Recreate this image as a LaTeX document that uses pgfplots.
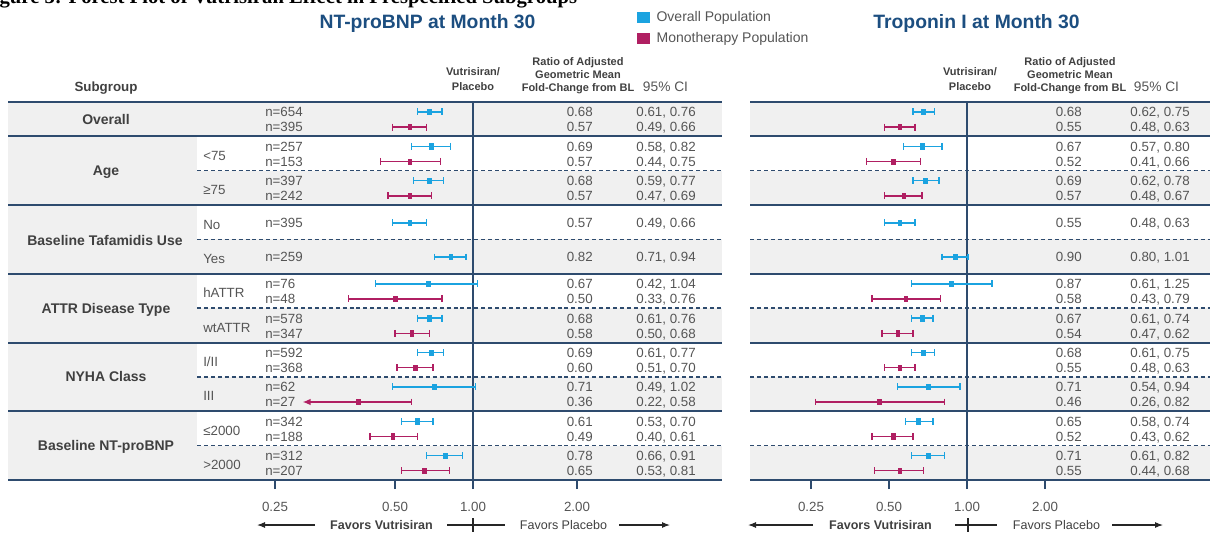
\documentclass[border=0pt]{standalone}
\usepackage{pgfplots}
\pgfplotsset{compat=1.18}
\usepackage{pgfplotstable}
\usepackage{fontspec}
\setmainfont{Liberation Sans}
\newfontfamily\ttlserif{Liberation Serif}
\usetikzlibrary{arrows.meta}
\definecolor{navy}{HTML}{2E4B6E}
\definecolor{ttl}{HTML}{1C4E80}
\definecolor{band}{HTML}{F0F0F0}
\definecolor{cblue}{HTML}{1BA3E0}
\definecolor{cmag}{HTML}{B01F62}
\definecolor{txt}{HTML}{555555}
\definecolor{lbl}{HTML}{404040}

% NT-proBNP, overall population
\pgfplotstableread{
y v lo hi
10.71 0.68 0.61 0.76
9.71 0.69 0.58 0.82
8.71 0.68 0.59 0.77
7.48 0.57 0.49 0.66
6.49 0.82 0.71 0.94
5.71 0.67 0.42 1.04
4.71 0.68 0.61 0.76
3.71 0.69 0.61 0.77
2.71 0.71 0.49 1.02
1.71 0.61 0.53 0.70
0.71 0.78 0.66 0.91
}\ntO
% NT-proBNP, monotherapy population
\pgfplotstableread{
y v lo hi
10.27 0.57 0.49 0.66
9.27 0.57 0.44 0.75
8.27 0.57 0.47 0.69
5.27 0.50 0.33 0.76
4.27 0.58 0.50 0.68
3.27 0.60 0.51 0.70
1.27 0.49 0.40 0.61
0.27 0.65 0.53 0.81
}\ntM
% NT-proBNP, monotherapy NYHA III (lower bound off scale)
\pgfplotstableread{
y v lo hi
2.27 0.36 0.22 0.58
}\ntMx
% Troponin I, overall population
\pgfplotstableread{
y v lo hi
10.71 0.68 0.62 0.75
9.71 0.67 0.57 0.80
8.71 0.69 0.62 0.78
7.48 0.55 0.48 0.63
6.49 0.90 0.80 1.01
5.71 0.87 0.61 1.25
4.71 0.67 0.61 0.74
3.71 0.68 0.61 0.75
2.71 0.71 0.54 0.94
1.71 0.65 0.58 0.74
0.71 0.71 0.61 0.82
}\trO
% Troponin I, monotherapy population
\pgfplotstableread{
y v lo hi
10.27 0.55 0.48 0.63
9.27 0.52 0.41 0.66
8.27 0.57 0.48 0.67
5.27 0.58 0.43 0.79
4.27 0.54 0.47 0.62
3.27 0.55 0.48 0.63
2.27 0.46 0.26 0.82
1.27 0.52 0.43 0.62
0.27 0.55 0.44 0.68
}\trM

\newcommand\ciplot[2]{%
  \addplot[#1, only marks, mark=|, mark size=2.6pt, mark options={line width=1.1pt}, forget plot] table[x=lo,y=y] {#2};
  \addplot[#1, only marks, mark=|, mark size=2.6pt, mark options={line width=1.1pt}, forget plot] table[x=hi,y=y] {#2};
  \addplot[#1, only marks, mark=square*, mark size=2pt, mark options={xscale=0.7}, forget plot,
    error bars/.cd, x dir=both, x explicit, error mark=none,
    error bar style={line width=1.1pt}]
    table[x=v, y=y, x error plus expr=\thisrow{hi}-\thisrow{v}, x error minus expr=\thisrow{v}-\thisrow{lo}] {#2};
}
\tikzset{
  tx/.style={font=\fontsize{10}{12}\selectfont, text=txt, inner sep=0pt, text height=7.2pt, text depth=0pt},
  gx/.style={font=\fontsize{10.5}{12}\selectfont\bfseries, text=lbl, inner sep=0pt, text height=7.5pt, text depth=0pt},
  hx/.style={font=\fontsize{8.25}{10}\selectfont\bfseries, text=lbl, inner sep=0pt, text height=5.9pt, text depth=0pt},
  fbx/.style={font=\fontsize{9.4}{11}\selectfont\bfseries, text=lbl, inner sep=0pt, text height=6.7pt, text depth=0pt},
  frx/.style={font=\fontsize{9.4}{11}\selectfont, text=lbl, inner sep=0pt, text height=6.7pt, text depth=0pt},
  ptx/.style={font=\fontsize{14.5}{16}\selectfont\bfseries, text=ttl, inner sep=0pt, text height=10.4pt, text depth=0pt},
}

\begin{document}
\begin{tikzpicture}
% ---------- background: bands and rules (pixel coordinates) ----------
\begin{axis}[at={(0pt,0pt)}, anchor=south west, width=909.75pt, height=399.75pt, scale only axis,
  xmin=0, xmax=1213, ymin=0, ymax=533, y dir=reverse, hide axis, clip=false]
\fill[band] (axis cs:8,102) rectangle (axis cs:722,136.4);
\fill[band] (axis cs:8,136.4) rectangle (axis cs:197,480);
\fill[band] (axis cs:197,170.7) rectangle (axis cs:722,205.1);
\fill[band] (axis cs:197,239.4) rectangle (axis cs:722,273.8);
\fill[band] (axis cs:197,308.2) rectangle (axis cs:722,342.5);
\fill[band] (axis cs:197,376.9) rectangle (axis cs:722,411.2);
\fill[band] (axis cs:197,445.6) rectangle (axis cs:722,480);
\fill[band] (axis cs:750,102) rectangle (axis cs:1210,136.4);
\fill[band] (axis cs:750,170.7) rectangle (axis cs:1210,205.1);
\fill[band] (axis cs:750,239.4) rectangle (axis cs:1210,273.8);
\fill[band] (axis cs:750,308.2) rectangle (axis cs:1210,342.5);
\fill[band] (axis cs:750,376.9) rectangle (axis cs:1210,411.2);
\fill[band] (axis cs:750,445.6) rectangle (axis cs:1210,480);
% solid rules
\draw[navy, line width=1.5pt] (axis cs:8,102) -- (axis cs:722,102) (axis cs:750,102) -- (axis cs:1210,102);
\draw[navy, line width=1.5pt] (axis cs:8,136.4) -- (axis cs:722,136.4) (axis cs:750,136.4) -- (axis cs:1210,136.4);
\draw[navy, line width=1.5pt] (axis cs:8,205.1) -- (axis cs:722,205.1) (axis cs:750,205.1) -- (axis cs:1210,205.1);
\draw[navy, line width=1.5pt] (axis cs:8,273.8) -- (axis cs:722,273.8) (axis cs:750,273.8) -- (axis cs:1210,273.8);
\draw[navy, line width=1.5pt] (axis cs:8,342.5) -- (axis cs:722,342.5) (axis cs:750,342.5) -- (axis cs:1210,342.5);
\draw[navy, line width=1.5pt] (axis cs:8,411.2) -- (axis cs:722,411.2) (axis cs:750,411.2) -- (axis cs:1210,411.2);
\draw[navy, line width=1.5pt] (axis cs:8,480) -- (axis cs:722,480) (axis cs:750,480) -- (axis cs:1210,480);
% tick marks of the ratio axes
\draw[navy, line width=1.1pt] (axis cs:275,480) -- (axis cs:275,489) (axis cs:395,480) -- (axis cs:395,489)
  (axis cs:473,480) -- (axis cs:473,489) (axis cs:577,480) -- (axis cs:577,489)
  (axis cs:811,480) -- (axis cs:811,489) (axis cs:889,480) -- (axis cs:889,489)
  (axis cs:967,480) -- (axis cs:967,489) (axis cs:1045,480) -- (axis cs:1045,489);
% dashed rules
\draw[navy, line width=1.1pt, dash pattern=on 3pt off 2.2pt] (axis cs:197,170.7) -- (axis cs:722,170.7) (axis cs:750,170.7) -- (axis cs:1210,170.7);
\draw[navy, line width=1.1pt, dash pattern=on 3pt off 2.2pt] (axis cs:197,239.4) -- (axis cs:722,239.4) (axis cs:750,239.4) -- (axis cs:1210,239.4);
\draw[navy, line width=1.1pt, dash pattern=on 3pt off 2.2pt] (axis cs:197,308.2) -- (axis cs:722,308.2) (axis cs:750,308.2) -- (axis cs:1210,308.2);
\draw[navy, line width=1.1pt, dash pattern=on 3pt off 2.2pt] (axis cs:197,376.9) -- (axis cs:722,376.9) (axis cs:750,376.9) -- (axis cs:1210,376.9);
\draw[navy, line width=1.1pt, dash pattern=on 3pt off 2.2pt] (axis cs:197,445.6) -- (axis cs:722,445.6) (axis cs:750,445.6) -- (axis cs:1210,445.6);
\end{axis}

% ---------- NT-proBNP forest ----------
\begin{axis}[xmode=log, xmin=0.125, xmax=4, ymin=0, ymax=11,
    width=292.5pt, height=283.5pt, scale only axis, clip=false,
    axis x line*=bottom, axis y line=none,
    x axis line style={draw=none},
    xminorticks=false, tick align=outside, major tick length=6.75pt,
    tick style={navy, line width=1.1pt},
    xticklabel style={font=\fontsize{10}{12}\selectfont, text=txt}, xticklabel shift=6pt,
  at={(179.25pt,39.75pt)}, anchor=south west,
  xtick={0.1721,0.5,1,2.52}, xticklabels={0.25,0.50,1.00,2.00},
  legend image code/.code={\fill[#1] (0pt,-4.1pt) rectangle (9.75pt,4.1pt); \path (13.5pt,0pt);},
  legend style={at={(1.0205,1.2434)}, anchor=north west, draw=none, fill=none, inner sep=0pt,
    font=\fontsize{10.5}{12}\selectfont, row sep=4.5pt,
    nodes={text=txt, inner sep=1pt}},
  legend cell align=left]
\addplot[navy, line width=1.5pt, forget plot] coordinates {(1,0) (1,11)};
\ciplot{cblue}{\ntO}
\ciplot{cmag}{\ntM}
\addplot[cmag, line width=1.1pt, -{Latex[length=6pt,width=5pt]}, forget plot] coordinates {(0.58,2.27) (0.22,2.27)};
\addplot[cmag, only marks, mark=|, mark size=2.6pt, mark options={line width=1.1pt}, forget plot] table[x=hi,y=y] {\ntMx};
\addplot[cmag, only marks, mark=square*, mark size=2pt, mark options={xscale=0.7}, forget plot] table[x=v,y=y] {\ntMx};
\addlegendimage{fill=cblue, draw=none}
\addlegendentry{Overall Population}
\addlegendimage{fill=cmag, draw=none}
\addlegendentry{Monotherapy Population}
\end{axis}

% ---------- Troponin I forest ----------
\begin{axis}[xmode=log, xmin=0.125, xmax=4, ymin=0, ymax=11,
    width=292.5pt, height=283.5pt, scale only axis, clip=false,
    axis x line*=bottom, axis y line=none,
    x axis line style={draw=none},
    xminorticks=false, tick align=outside, major tick length=6.75pt,
    tick style={navy, line width=1.1pt},
    xticklabel style={font=\fontsize{10}{12}\selectfont, text=txt}, xticklabel shift=6pt,
  at={(549.75pt,39.75pt)}, anchor=south west,
  xtick={0.25,0.5,1,2}, xticklabels={0.25,0.50,1.00,2.00}]
\addplot[navy, line width=1.5pt, forget plot] coordinates {(1,0) (1,11)};
\ciplot{cblue}{\trO}
\ciplot{cmag}{\trM}
\end{axis}

% ---------- texts (pixel coordinates, origin top-left) ----------
\begin{scope}[x=0.75pt, y=-0.75pt, shift={(0pt,399.75pt)}]
\node[font=\ttlserif\fontsize{15.5}{18}\selectfont\bfseries, text=black, anchor=base west, inner sep=0pt]
  at (-19,4) {Figure 3: Forest Plot of Vutrisiran Effect in Prespecified Subgroups};
\node[ptx] at (427.5,21.5) {NT-proBNP at Month 30};
\node[ptx] at (976.5,21.5) {Troponin I at Month 30};
% column headers
\node[gx, font=\fontsize{10}{12}\selectfont\bfseries] at (106,87) {Subgroup};
\foreach \cx/\rx/\ccx in {473/578/665.5, 970/1070/1156.5}{
  \node[hx] at (\cx,72) {Vutrisiran/};
  \node[hx] at (\cx,87) {Placebo};
  \node[hx] at (\rx,62) {Ratio of Adjusted};
  \node[hx] at (\rx,74.5) {Geometric Mean};
  \node[hx] at (\rx,88) {Fold-Change from BL};
  \node[tx, font=\fontsize{10.3}{12}\selectfont] at (\ccx,87) {95\% CI};
}
% group labels
\node[gx] at (106,119.2) {Overall};
\node[gx] at (106,170.7) {Age};
\node[gx] at (105,240) {Baseline Tafamidis Use};
\node[gx] at (106,308.2) {ATTR Disease Type};
\node[gx] at (106,376.9) {NYHA Class};
\node[gx] at (106,445.6) {Baseline NT-proBNP};
% sub labels
\foreach \yy/\s in {155.6/{<75}, 190/{≥75}, 224.3/{No}, 258.6/{Yes}, 293/{hATTR}, 327.4/{wtATTR},
  361.7/{I/II}, 396/{III}, 430.4/{≤2000}, 464.8/{>2000}}{
  \node[tx, anchor=west] at (203,\yy) {\s};
}
% left rows
\foreach \yy/\nn/\va/\ci in {
 112/654/0.68/{0.61, 0.76}, 127/395/0.57/{0.49, 0.66},
 146.4/257/0.69/{0.58, 0.82}, 161.4/153/0.57/{0.44, 0.75},
 180.7/397/0.68/{0.59, 0.77}, 195.7/242/0.57/{0.47, 0.69},
 222.8/395/0.57/{0.49, 0.66}, 257.1/259/0.82/{0.71, 0.94},
 283.8/76/0.67/{0.42, 1.04}, 298.8/48/0.50/{0.33, 0.76},
 318.2/578/0.68/{0.61, 0.76}, 333.2/347/0.58/{0.50, 0.68},
 352.5/592/0.69/{0.61, 0.77}, 367.5/368/0.60/{0.51, 0.70},
 386.9/62/0.71/{0.49, 1.02}, 401.9/27/0.36/{0.22, 0.58},
 421.2/342/0.61/{0.53, 0.70}, 436.2/188/0.49/{0.40, 0.61},
 455.6/312/0.78/{0.66, 0.91}, 470.6/207/0.65/{0.53, 0.81}}{
  \node[tx, anchor=west] at (265,\yy) {n=\nn};
  \node[tx, anchor=east] at (593,\yy) {\va};
  \node[tx, anchor=east] at (696,\yy) {\ci};
}
% right rows
\foreach \yy/\va/\ci in {
 112/0.68/{0.62, 0.75}, 127/0.55/{0.48, 0.63},
 146.4/0.67/{0.57, 0.80}, 161.4/0.52/{0.41, 0.66},
 180.7/0.69/{0.62, 0.78}, 195.7/0.57/{0.48, 0.67},
 222.8/0.55/{0.48, 0.63}, 257.1/0.90/{0.80, 1.01},
 283.8/0.87/{0.61, 1.25}, 298.8/0.58/{0.43, 0.79},
 318.2/0.67/{0.61, 0.74}, 333.2/0.54/{0.47, 0.62},
 352.5/0.68/{0.61, 0.75}, 367.5/0.55/{0.48, 0.63},
 386.9/0.71/{0.54, 0.94}, 401.9/0.46/{0.26, 0.82},
 421.2/0.65/{0.58, 0.74}, 436.2/0.52/{0.43, 0.62},
 455.6/0.71/{0.61, 0.82}, 470.6/0.55/{0.44, 0.68}}{
  \node[tx, anchor=east] at (1082,\yy) {\va};
  \node[tx, anchor=east] at (1190,\yy) {\ci};
}
% favors rows
\foreach \a/\b/\c/\d/\e/\f/\g/\h/\i in {315/257/381.5/447/505/473/563.5/619/670, 813/748/880.5/955/997/968/1056.5/1112/1163}{
  \draw[black!85, line width=0.8pt, -{Latex[length=6pt,width=4.5pt]}] (\a,525) -- (\b,525);
  \node[fbx] at (\c,525) {Favors Vutrisiran};
  \draw[black!85, line width=0.8pt] (\d,525) -- (\e,525) (\f,518) -- (\f,532);
  \node[frx] at (\g,525) {Favors Placebo};
  \draw[black!85, line width=0.8pt, -{Latex[length=6pt,width=4.5pt]}] (\h,525) -- (\i,525);
}
\end{scope}
\pgfresetboundingbox
\useasboundingbox (0pt,0pt) rectangle (909.75pt,399.75pt);
\end{tikzpicture}
\end{document}
